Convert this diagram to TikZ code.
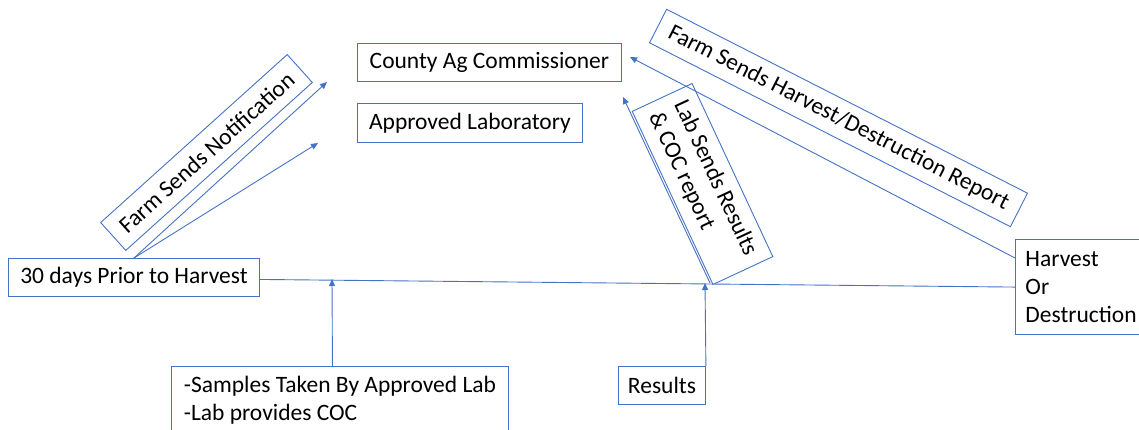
\documentclass[tikz,border=0pt]{standalone}
\usepackage{fontspec}
\setmainfont{Carlito}
\usetikzlibrary{arrows.meta}
\definecolor{ob}{HTML}{4472C4}
\begin{document}
\begin{tikzpicture}[x=1pt,y=-1pt,
  box/.style={draw=ob, line width=0.9pt, inner xsep=0pt, text=black,
    font=\fontsize{23.5}{28}\selectfont},
  conn/.style={draw=ob, line width=0.9pt},
  arr/.style={conn, -{Triangle[width=6pt,length=7pt]}}]
\useasboundingbox (0,0) rectangle (1139,430);
\clip (0,0) rectangle (1139,430);
% boxes
\node[box, anchor=north west, minimum width=251pt, minimum height=38pt] (days) at (8,258) {30 days Prior to Harvest};
\node[box, anchor=north west, minimum width=264pt, minimum height=38pt] (cac) at (357,43) {County Ag Commissioner};
\node[box, anchor=north west, minimum width=225pt, minimum height=39pt] (lab) at (357,103) {Approved Laboratory};
\node[box, anchor=north west, minimum width=337pt, align=left, inner ysep=9.5pt] (samples) at (171,366) {-Samples Taken By Approved Lab\\-Lab provides COC};
\node[box, anchor=north west, minimum width=87pt, minimum height=38pt] (results) at (618,366) {Results};
\node[box, anchor=north west, text width=150pt, inner xsep=10pt, align=left, inner ysep=12pt] (hod) at (1015,239) {Harvest\\Or\\Destruction};
% rotated labels
\node[box, rotate=42, minimum width=251pt, minimum height=37.5pt, inner sep=0pt] (fsn) at (206.5,152.5) {Farm Sends Notification};
\node[box, rotate=-65, minimum width=191pt, minimum height=66pt, align=left, inner sep=0pt] (lsr) at (702.5,184) {Lab Sends Results\\\& COC report};
\node[box, rotate=-27, minimum width=405pt, minimum height=37.6pt, inner sep=0pt] (fsh) at (838.5,118) {Farm Sends Harvest/Destruction Report};
% free ends
\coordinate (tcac) at (327,82);
\coordinate (tlab) at (318,143);
\coordinate (tsamp) at (332,279);
\coordinate (tres) at (705,283);
\coordinate (lsrfoot) at (710,283);
\coordinate (tlsr) at (623,97);
\coordinate (thod) at (630,57);
% connectors
\draw[arr] (days.north) -- (tcac);
\draw[arr] (days.north) -- (tlab);
\draw[conn] ([yshift=-2pt]days.east) -- (hod.west);
\draw[arr] ([xshift=-7.5pt]samples.north) -- (tsamp);
\draw[arr] (results.north east) -- (tres);
\draw[arr] (lsrfoot) -- (tlsr);
\draw[arr] ([yshift=-19pt]hod.north west) -- (thod);
\end{tikzpicture}
\end{document}
